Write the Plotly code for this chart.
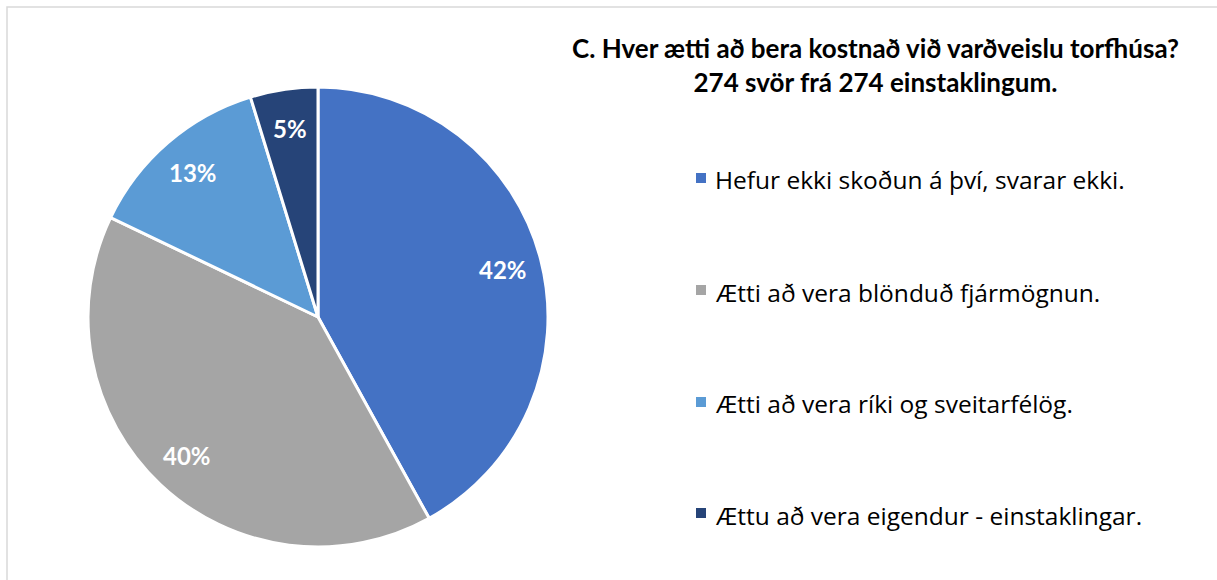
import math
import plotly.graph_objects as go

labels = [
    "Hefur ekki skoðun á því, svarar ekki.",
    "Ætti að vera blönduð fjármögnun.",
    "Ætti að vera ríki og sveitarfélög.",
    "Ættu að vera eigendur - einstaklingar.",
]
counts = [115, 110, 36, 13]
colors = ["#4472C4", "#A5A5A5", "#5B9BD5", "#264478"]
title_lines = ["C. Hver ætti að bera kostnað við varðveislu torfhúsa?",
               "274 svör frá 274 einstaklingum."]

W, H = 1217, 580
font = "Lato, 'Open Sans', sans-serif"
legend_font = "'Open Sans', sans-serif"

# pie geometry in pixels
cx, cy, R = 318, 317, 230

fig = go.Figure(go.Pie(
    labels=labels,
    values=counts,
    marker=dict(colors=colors, line=dict(color="white", width=3)),
    sort=False,
    direction="clockwise",
    rotation=0,
    textinfo="none",
    domain=dict(x=[(cx - R) / W, (cx + R) / W], y=[(H - cy - R) / H, (H - cy + R) / H]),
    showlegend=False,
    hoverinfo="label+percent",
))

annotations = []

# percentage labels placed near the outer part of each slice (Excel style)
total = sum(counts)
acc = 0
for c in counts:
    mid = (acc + c / 2) / total * 2 * math.pi
    acc += c
    px = cx + 0.83 * R * math.sin(mid)
    py = cy - 0.83 * R * math.cos(mid)
    annotations.append(dict(
        x=px / W, y=1 - py / H, xref="paper", yref="paper",
        xanchor="center", yanchor="middle", showarrow=False,
        text=f"<b>{round(100 * c / total)}%</b>",
        font=dict(family=font, size=24, color="white"),
    ))

# legend drawn by hand so the entries can be spread out like the original
legend_y = [178, 290, 402, 513]
shapes = []
for lab, col, yy in zip(labels, colors, legend_y):
    shapes.append(dict(type="rect", xref="paper", yref="paper",
                       x0=696 / W, x1=706 / W, y0=1 - (yy + 5) / H, y1=1 - (yy - 5) / H,
                       fillcolor=col, line=dict(width=0)))
    annotations.append(dict(
        x=713 / W, y=1 - (yy + 2) / H, xref="paper", yref="paper",
        xanchor="left", yanchor="middle", showarrow=False,
        text=lab,
        font=dict(family=legend_font, size=24.5, color="#000000"),
    ))

annotations.append(dict(
    x=875 / W, y=1 - 65 / H, xref="paper", yref="paper",
    xanchor="center", yanchor="middle", showarrow=False,
    text="<br>".join(f"<b>{t}</b>" for t in title_lines),
    font=dict(family=font, size=26, color="#000000"),
))

shapes.append(dict(type="rect", xref="paper", yref="paper",
                   x0=7 / W, x1=1.05, y0=-0.05, y1=1 - 7 / H,
                   line=dict(color="#D9D9D9", width=1.5)))

fig.update_layout(
    width=W, height=H,
    margin=dict(l=0, r=0, t=0, b=0),
    paper_bgcolor="white",
    annotations=annotations,
    shapes=shapes,
)

fig.write_html("out.html", config={"displayModeBar": False},
               post_script="document.body.style.margin='0px';")
